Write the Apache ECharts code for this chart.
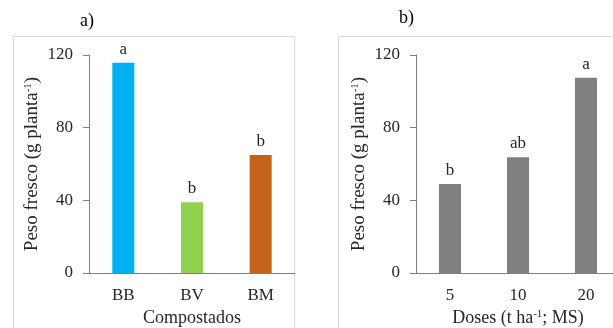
<!DOCTYPE html>
<html><head><meta charset="utf-8">
<script src="https://cdn.jsdelivr.net/npm/echarts@6/dist/echarts.min.js"></script>
<style>html,body{margin:0;padding:0;background:#fff}#c{width:613px;height:328px}</style>
</head><body><div id="c"></div>
<script>
var catsA = ['BB','BV','BM'];
var valsA = [115.7, 39, 65];
var lettersA = ['a','b','b'];
var colorsA = ['#00B0F0','#92D050','#C5621A'];
var catsB = ['5','10','20'];
var valsB = [49, 63.7, 107.5];
var lettersB = ['b','ab','a'];
var yTicks = [0, 40, 80, 120];

var font = 'Liberation Serif';
var txt = '#262626';
var supStyle = {fontFamily:font,fontSize:11,color:txt,verticalAlign:'top',padding:[0,0,8,0]};
var chart = echarts.init(document.getElementById('c'));
function yAxis(gi){
  return {type:'value', gridIndex:gi, min:yTicks[0], max:yTicks[yTicks.length-1], interval:40,
    name:'Peso fresco (g planta{sup|-1})', nameLocation:'middle', nameGap:47,
    nameTextStyle:{fontFamily:font, fontSize:19, color:txt, rich:{sup:supStyle}},
    axisLine:{show:true, lineStyle:{color:'#7f7f7f', width:1}},
    axisTick:{show:true, length:6, lineStyle:{color:'#7f7f7f'}},
    splitLine:{show:false},
    axisLabel:{fontFamily:font, fontSize:17, color:txt, margin:16}
  };
}
function xAxis(gi, cats, name){
  return {type:'category', gridIndex:gi, data:cats, name:name, nameLocation:'middle', nameGap:36,
    nameTextStyle:{fontFamily:font, fontSize:18, color:txt, rich:{sup:supStyle}},
    axisLine:{show:true, lineStyle:{color:'#7f7f7f', width:1}},
    axisTick:{show:false},
    axisLabel:{fontFamily:font, fontSize:17, color:txt, margin:14}
  };
}
var labelStyle = {show:true, position:'top', distance:5, fontFamily:font, fontSize:17, color:txt};
chart.setOption({
  animation:false,
  grid:[{left:89, top:55, width:206, height:218, outerBoundsMode:'none', containLabel:false},
        {left:416, top:55, width:204, height:218, outerBoundsMode:'none', containLabel:false}],
  xAxis:[xAxis(0, catsA, 'Compostados'), xAxis(1, catsB, 'Doses (t ha{sup|-1}; MS)')],
  yAxis:[yAxis(0), yAxis(1)],
  series:[
    {type:'bar', xAxisIndex:0, yAxisIndex:0, barWidth:22,
     data:valsA.map(function(v,i){return {value:v, itemStyle:{color:colorsA[i]}, label:Object.assign({}, labelStyle, {formatter:lettersA[i]})};})},
    {type:'bar', xAxisIndex:1, yAxisIndex:1, barWidth:22, itemStyle:{color:'#808080'},
     data:valsB.map(function(v,i){return {value:v, label:Object.assign({}, labelStyle, {formatter:lettersB[i]})};})}
  ],
  graphic:[
    {type:'rect', shape:{x:13.5, y:36.5, width:281, height:320}, style:{fill:null, stroke:'#d9d9d9', lineWidth:1}, z:-1},
    {type:'rect', shape:{x:338.5, y:36.5, width:320, height:320}, style:{fill:null, stroke:'#d9d9d9', lineWidth:1}, z:-1},
    {type:'text', left:80, top:12, style:{text:'a)', font:'18px "Liberation Serif"', fill:'#000'}},
    {type:'text', left:399, top:9, style:{text:'b)', font:'18px "Liberation Serif"', fill:'#000'}}
  ]
});
</script></body></html>
